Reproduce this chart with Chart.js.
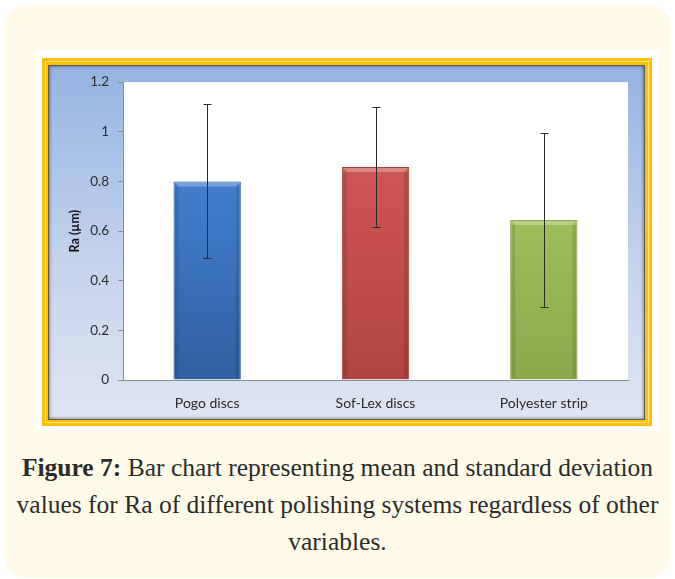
<!DOCTYPE html>
<html>
<head>
<meta charset="utf-8">
<script src="https://cdn.jsdelivr.net/npm/chart.js@4"></script>
<style>
  body { margin: 0; background: #fff; width: 675px; height: 579px; position: relative; overflow: hidden; }
  .card { position: absolute; left: 4px; top: 5px; width: 667px; height: 573px; background: #fffbe8; border-radius: 22px; }
  .paper { position: absolute; left: 35px; top: 50px; width: 624px; height: 381px; background: #fff; }
  .frame { position: absolute; left: 42px; top: 58px; width: 610px; height: 368px; background: #ffc000; }
  .frame .ring { position: absolute; left: 3px; top: 3px; right: 3px; bottom: 3px; border: 1px solid #ffe48c; }
  .frame .blue { position: absolute; left: 6px; top: 7px; right: 7px; bottom: 6px;
    background: linear-gradient(#95b3e2, #c4d3ec 55%, #dfe6f3);
    box-shadow: inset 0 0 0 1px #5a5a5a, inset 2px 2px 3px rgba(0,0,0,0.35), inset -2px -2px 3px rgba(0,0,0,0.35); }
  #wrap { position: absolute; left: 48px; top: 65px; width: 597px; height: 355px; }
  .caption { position: absolute; left: 4px; top: 449px; width: 667px; text-align: center;
    font-family: "Liberation Serif", "DejaVu Serif", serif; font-size: 25.5px; line-height: 37px; color: #2b2b2b; }
  .caption b { font-weight: bold; }
</style>
</head>
<body>
<div class="card"></div>
<div class="paper"></div>
<div class="frame"><div class="ring"></div><div class="blue"></div></div>
<div id="wrap"><canvas id="chart" width="597" height="355"></canvas></div>
<div class="caption"><b>Figure 7:</b> Bar chart representing mean and standard deviation<br>values for Ra of different polishing systems regardless of other<br>variables.</div>

<script>
const categories = ['Pogo discs', 'Sof-Lex discs', 'Polyester strip'];
const meanRa = [0.80, 0.858, 0.645];
const sdRa = [0.31, 0.24, 0.35];
const yTicks = [0, 0.2, 0.4, 0.6, 0.8, 1, 1.2];

const barShades = [
    ['#4d88d6', '#3d77c6', '#30609f'],
    ['#d25e5b', '#c6504d', '#b04441'],
    ['#adcb6c', '#9dbd5b', '#8aa94c']
];

function barFill(context) {
    const chart = context.chart;
    const area = chart.chartArea;
    if (!area) return barShades[context.dataIndex][1];
    const shades = barShades[context.dataIndex];
    const g = chart.ctx.createLinearGradient(0, area.top, 0, area.bottom);
    g.addColorStop(0, shades[0]);
    g.addColorStop(0.5, shades[1]);
    g.addColorStop(1, shades[2]);
    return g;
}

// light bevel on the top edge and darker sides, like the Office 2007 bar style
const barBevel = {
    id: 'barBevel',
    afterDatasetsDraw(chart) {
        const ctx = chart.ctx;
        const meta = chart.getDatasetMeta(0);
        ctx.save();
        meta.data.forEach((bar) => {
            const left = bar.x - bar.width / 2;
            const right = bar.x + bar.width / 2;
            const top = bar.y;
            const base = bar.base;
            ctx.fillStyle = 'rgba(255,255,255,0.28)';
            ctx.beginPath();
            ctx.moveTo(left + 1, top + 1);
            ctx.lineTo(right - 1, top + 1);
            ctx.lineTo(right - 5, top + 5);
            ctx.lineTo(left + 5, top + 5);
            ctx.closePath();
            ctx.fill();
            ctx.fillStyle = 'rgba(0,0,0,0.10)';
            ctx.fillRect(left + 1, top + 5, 4, base - top - 6);
            ctx.fillRect(right - 5, top + 5, 4, base - top - 6);
        });
        ctx.restore();
    }
};

const errorBars = {
    id: 'errorBars',
    afterDatasetsDraw(chart) {
        const ctx = chart.ctx;
        const y = chart.scales.y;
        const meta = chart.getDatasetMeta(0);
        ctx.save();
        ctx.strokeStyle = '#2a2a2a';
        ctx.lineWidth = 1;
        meta.data.forEach((bar, i) => {
            const x = Math.round(bar.x) + 0.5;
            const top = y.getPixelForValue(meanRa[i] + sdRa[i]);
            const bottom = y.getPixelForValue(meanRa[i] - sdRa[i]);
            ctx.beginPath();
            ctx.moveTo(x, top);
            ctx.lineTo(x, bottom);
            ctx.moveTo(x - 4, Math.round(top) + 0.5);
            ctx.lineTo(x + 4, Math.round(top) + 0.5);
            ctx.moveTo(x - 4, Math.round(bottom) + 0.5);
            ctx.lineTo(x + 4, Math.round(bottom) + 0.5);
            ctx.stroke();
        });
        ctx.restore();
    }
};

const plotBackground = {
    id: 'plotBackground',
    beforeDraw(chart) {
        const a = chart.chartArea;
        chart.ctx.save();
        chart.ctx.fillStyle = '#ffffff';
        chart.ctx.fillRect(a.left, a.top, a.right - a.left, a.bottom - a.top);
        chart.ctx.restore();
    }
};

new Chart(document.getElementById('chart').getContext('2d'), {
    type: 'bar',
    data: {
        labels: categories,
        datasets: [{
            label: 'Ra',
            data: meanRa,
            backgroundColor: barFill,
            borderColor: ['#2f5d98', '#a9403d', '#86a34a'],
            borderWidth: 1,
            categoryPercentage: 1,
            barPercentage: 0.4
        }]
    },
    options: {
        responsive: false,
        animation: false,
        layout: { padding: { left: 0, top: 17, right: 17, bottom: 0 } },
        plugins: {
            legend: { display: false },
            tooltip: { enabled: false }
        },
        scales: {
            x: {
                afterFit: (scale) => { scale.height = 40; },
                grid: { display: false },
                border: { display: true, color: '#8c8c8c', width: 1 },
                ticks: { color: '#2b2b2b', padding: 7, font: { family: 'Lato', size: 14 } }
            },
            y: {
                min: 0,
                max: 1.2,
                afterFit: (scale) => { scale.width = 75; },
                afterBuildTicks: (scale) => { scale.ticks = yTicks.map(v => ({ value: v })); },
                grid: { drawOnChartArea: false, drawTicks: true, tickLength: 5, color: '#8c8c8c' },
                border: { display: true, color: '#8c8c8c', width: 1 },
                ticks: {
                    color: '#2b2b2b',
                    padding: 9,
                    font: { family: 'Lato', size: 13.5 },
                    callback: (v) => String(Number(v.toFixed(1)))
                },
                title: {
                    display: true,
                    text: 'Ra (µm)',
                    color: '#111',
                    padding: { top: 19, bottom: 0 },
                    font: { family: 'Lato', size: 12.5, weight: 'bold' }
                }
            }
        }
    },
    plugins: [plotBackground, barBevel, errorBars]
});
</script>
</body>
</html>
